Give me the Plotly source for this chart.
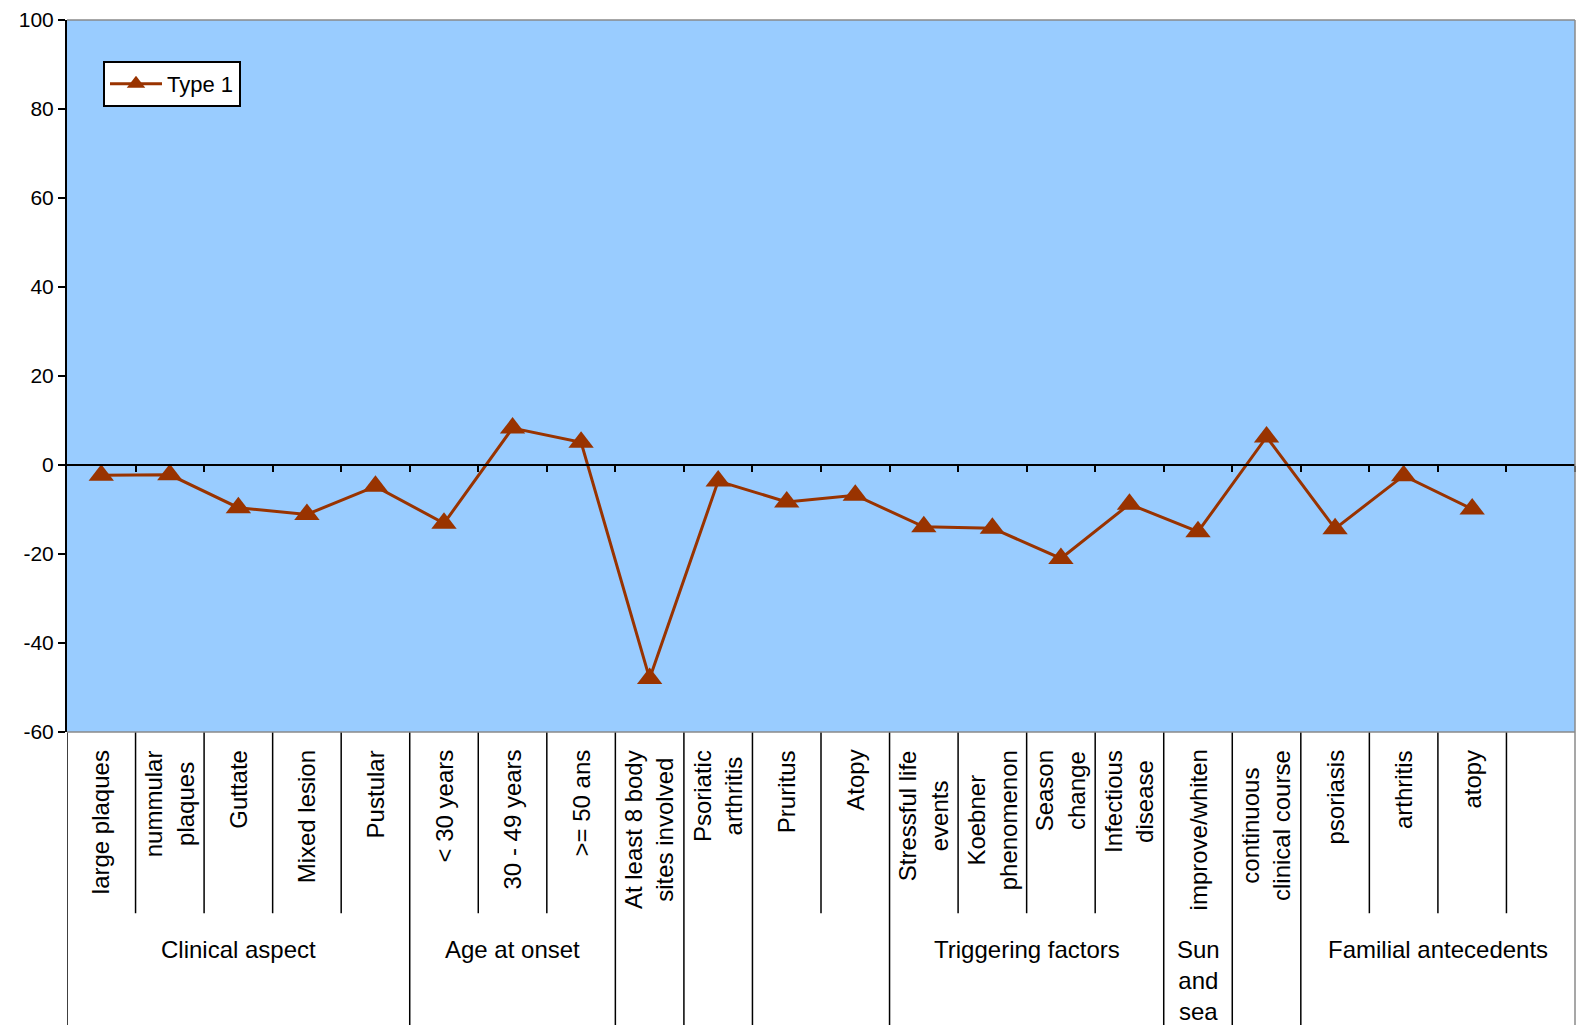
import plotly.graph_objects as go

# ---------------- data ----------------
categories = ["large plaques", "nummular\nplaques", "Guttate", "Mixed lesion", "Pustular",
              "< 30 years", "30 - 49 years", ">= 50 ans",
              "At least 8 body\nsites involved", "Psoriatic\narthritis",
              "Pruritus", "Atopy",
              "Stressful life\nevents", "Koebner\nphenomenon", "Season\nchange", "Infectious\ndisease",
              "improve/whiten", "continuous\nclinical course",
              "psoriasis", "arthritis", "atopy", ""]
type1_values = [-2.3, -2.2, -9.6, -11.1, -4.8,
                -13.1, 8.3, 5.1,
                -48.0, -3.6,
                -8.3, -6.8,
                -13.9, -14.2, -21.0, -8.8,
                -15.0, 6.3,
                -14.3, -2.4, -9.9]
group_labels = ["Clinical aspect", "Age at onset", "", "", "", "Triggering factors",
                "Sun\nand\nsea", "", "Familial antecedents"]
group_sizes = [5, 3, 1, 1, 2, 4, 1, 1, 4]
y_ticks = [-60, -40, -20, 0, 20, 40, 60, 80, 100]

# ---------------- layout constants ----------------
W, H = 1583, 1025
ML, MR, MT, MB = 67, 8, 17, 293
PH = H - MT - MB
FONT = "Liberation Sans, Arial, sans-serif"
LINE_COLOR = "#993300"


def py(pixel_y):
    """pixel row -> paper y coordinate"""
    return (H - MB - pixel_y) / PH


def esc(s):
    return s.replace("<", "&lt;").replace(">", "&gt;").replace("\n", "<br>")


n = len(categories)
xs = list(range(len(type1_values)))

fig = go.Figure()
fig.add_trace(go.Scatter(
    x=xs, y=type1_values, mode="lines+markers", name="Type 1",
    line=dict(color=LINE_COLOR, width=3),
    marker=dict(symbol="triangle-up", size=22, color=LINE_COLOR),
))

shapes = []
annotations = []

# level-1 labels (rotated)
for i, c in enumerate(categories):
    if not c:
        continue
    annotations.append(dict(
        x=i, xref="x", y=py(748), yref="paper", text=esc(c), textangle=-90,
        showarrow=False, xanchor="center", yanchor="top", align="center",
        font=dict(family=FONT, size=24, color="black")))

# group separators and group labels
start = 0
long_bounds = [0]
for lab, sz in zip(group_labels, group_sizes):
    end = start + sz
    if lab:
        annotations.append(dict(
            x=(start + end - 1) / 2, xref="x", y=py(935), yref="paper", text=esc(lab),
            showarrow=False, xanchor="center", yanchor="top", align="center",
            font=dict(family=FONT, size=24, color="black")))
    for b in range(start + 1, end):
        shapes.append(dict(type="line", xref="x", yref="paper", x0=b - 0.5, x1=b - 0.5,
                           y0=0, y1=py(914), line=dict(color="black", width=1.5)))
    if end < n:
        long_bounds.append(end)
    start = end
for b in long_bounds:
    shapes.append(dict(type="line", xref="x", yref="paper", x0=b - 0.5, x1=b - 0.5,
                       y0=0, y1=py(H + 5), line=dict(color="black", width=1.5)))

# plot area border (grey top/right/bottom) and right edge of chart
shapes.append(dict(type="line", xref="paper", yref="paper", x0=0, x1=1, y0=1, y1=1,
                   line=dict(color="#8a8a8a", width=1.5)))
shapes.append(dict(type="line", xref="paper", yref="paper", x0=1, x1=1, y0=1, y1=py(H + 5),
                   line=dict(color="#8a8a8a", width=1.5)))
shapes.append(dict(type="line", xref="paper", yref="paper", x0=0, x1=1, y0=0, y1=0,
                   line=dict(color="#8a8a8a", width=1.5)))

fig.update_layout(
    width=W, height=H,
    margin=dict(l=ML, r=MR, t=MT, b=MB, pad=0),
    paper_bgcolor="white", plot_bgcolor="#99CCFF",
    font=dict(family=FONT, size=20, color="black"),
    xaxis=dict(range=[-0.5, n - 0.5], showgrid=False, zeroline=False,
               showline=True, linecolor="black", linewidth=1.5,
               anchor="free", position=(0 - y_ticks[0]) / (y_ticks[-1] - y_ticks[0]),
               tickvals=[i + 0.5 for i in range(n)], ticks="outside", ticklen=6,
               tickwidth=1.5, tickcolor="black", showticklabels=False),
    yaxis=dict(range=[y_ticks[0], y_ticks[-1]], tickvals=y_ticks,
               ticktext=[str(v) for v in y_ticks], showgrid=False,
               zeroline=False, showline=True, linecolor="black", linewidth=2,
               ticks="outside", ticklen=7, tickwidth=1.5, tickcolor="black",
               tickfont=dict(family=FONT, size=21, color="black")),
    showlegend=True,
    legend=dict(x=(103 - ML) / (W - ML - MR), y=py(58), xanchor="left", yanchor="top",
                bgcolor="white", bordercolor="black", borderwidth=2,
                font=dict(family=FONT, size=22, color="black"), itemwidth=52),
    shapes=shapes, annotations=annotations,
)

fig.write_html("out.html")
